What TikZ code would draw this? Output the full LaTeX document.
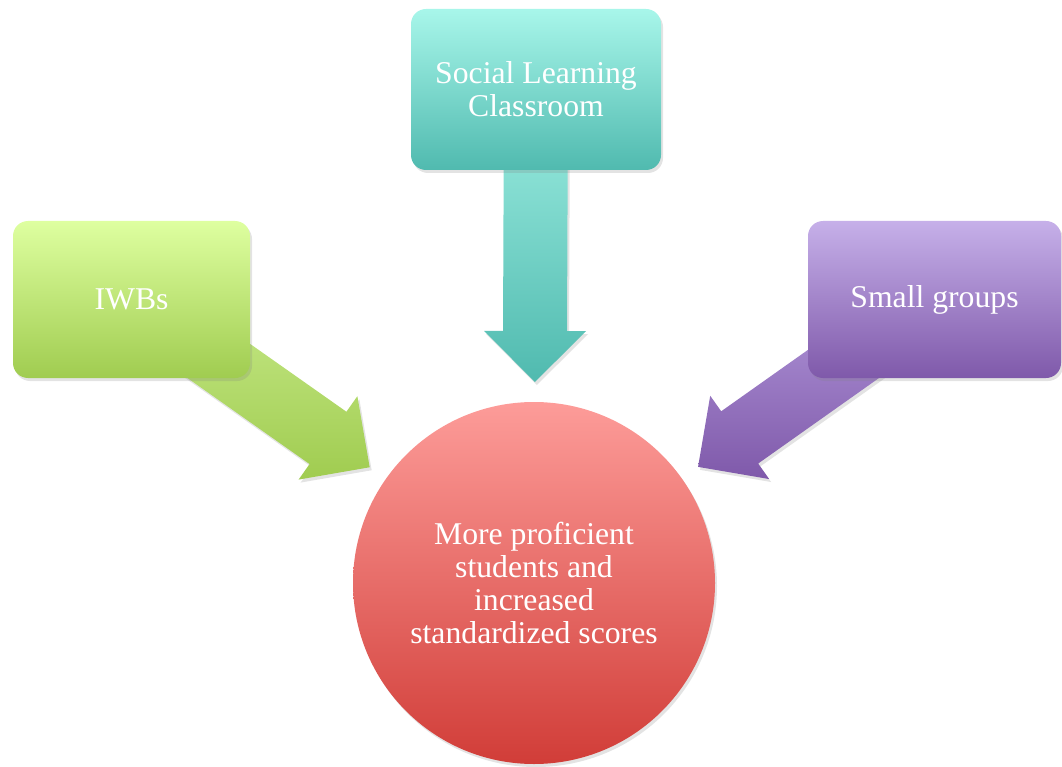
\documentclass[tikz,border=0pt]{standalone}
\usepackage{fontspec}
\setmainfont{Liberation Serif}
\usetikzlibrary{calc,shadows}
\pgfdeclarelayer{background}
\pgfsetlayers{background,main}
\definecolor{tealTop}{RGB}{168,246,234}
\definecolor{tealBot}{RGB}{80,186,175}
\definecolor{tealArTop}{RGB}{158,238,226}
\definecolor{greenTop}{RGB}{222,255,160}
\definecolor{greenBot}{RGB}{160,204,80}
\definecolor{greenArTop}{RGB}{202,236,142}
\definecolor{purpTop}{RGB}{198,176,233}
\definecolor{purpBot}{RGB}{127,89,170}
\definecolor{purpArTop}{RGB}{182,157,222}
\definecolor{redTop}{RGB}{253,156,153}
\definecolor{redBot}{RGB}{209,61,56}
\tikzset{
  softshadow/.style={drop shadow={opacity=0.22, shadow xshift=2pt, shadow yshift=-3pt}},
  box/.style={rectangle, rounded corners=15pt, inner sep=0pt, text=white, align=center,
    font=\fontsize{31.7}{33}\selectfont, softshadow},
  goal/.style={circle, inner sep=0pt, minimum size=362pt, text=white, align=center,
    font=\fontsize{31.7}{32.8}\selectfont, top color=redTop, bottom color=redBot, softshadow},
}
% block arrow from #1 (start) to #2 (tip)
\newcommand{\blockarrow}[3]{%
  \path[#3, softshadow]
    ($(#1)!32pt!90:(#2)$) --
    ($($(#2)!51pt!(#1)$)!32pt!-90:(#1)$) --
    ($($(#2)!51pt!(#1)$)!51pt!-90:(#1)$) --
    (#2) --
    ($($(#2)!51pt!(#1)$)!51pt!90:(#1)$) --
    ($($(#2)!51pt!(#1)$)!32pt!90:(#1)$) --
    ($(#1)!32pt!-90:(#2)$) -- cycle;}
\begin{document}
\begin{tikzpicture}[x=1pt,y=-1pt]
\useasboundingbox (0,0) rectangle (1062,767);
\node[goal] (goal) at (534,583) {More proficient\\students and\\increased\\standardized scores};
\node[box, minimum width=250pt, minimum height=161pt, top color=tealTop, bottom color=tealBot]
  (slc) at (536,89.5) {Social Learning\\Classroom};
\node[box, minimum width=237pt, minimum height=157pt, top color=greenTop, bottom color=greenBot]
  (iwb) at (131.5,299.5) {IWBs};
\node[box, minimum width=253pt, minimum height=157pt, top color=purpTop, bottom color=purpBot]
  (sg) at (934.5,299.5) {Small groups};
\coordinate (tipT) at ($(goal.center)!201pt!(slc.center)$);
\coordinate (tipL) at ($(goal.center)!201pt!(iwb.center)$);
\coordinate (tipR) at ($(goal.center)!201pt!(sg.center)$);
\begin{pgfonlayer}{background}
\blockarrow{slc.center}{tipT}{top color=tealArTop, bottom color=tealBot}
\blockarrow{iwb.center}{tipL}{top color=greenArTop, bottom color=greenBot}
\blockarrow{sg.center}{tipR}{top color=purpArTop, bottom color=purpBot}
\end{pgfonlayer}
\end{tikzpicture}
\end{document}
